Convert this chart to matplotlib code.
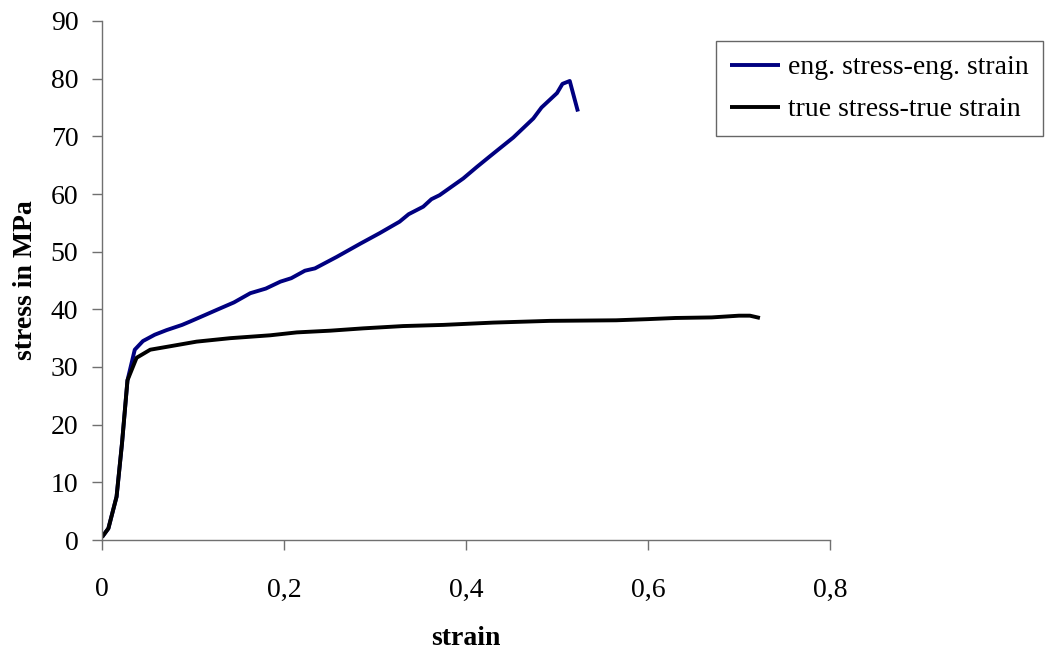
import matplotlib
matplotlib.use("Agg")
import matplotlib.pyplot as plt

eng_strain = [0, 0.007, 0.016, 0.022, 0.028, 0.036, 0.045, 0.058, 0.071, 0.088, 0.097, 0.113,
              0.126, 0.145, 0.163, 0.18, 0.196, 0.208, 0.223, 0.234, 0.258, 0.284, 0.305,
              0.327, 0.337, 0.353, 0.362, 0.371, 0.397, 0.412, 0.426, 0.437, 0.452, 0.474,
              0.483, 0.500, 0.506, 0.514, 0.523]
eng_stress = [0.5, 2.0, 7.5, 16.8, 27.7, 33.0, 34.5, 35.6, 36.4, 37.3, 37.9, 39.0,
              39.9, 41.2, 42.8, 43.6, 44.8, 45.4, 46.7, 47.1, 49.1, 51.4, 53.2,
              55.2, 56.5, 57.8, 59.1, 59.8, 62.7, 64.7, 66.5, 67.9, 69.8, 73.1,
              75.0, 77.5, 79.1, 79.6, 74.3]

true_strain = [0, 0.007, 0.016, 0.022, 0.028, 0.038, 0.053, 0.075, 0.104, 0.141, 0.185, 0.214,
               0.251, 0.287, 0.331, 0.375, 0.43, 0.492, 0.565, 0.60, 0.63, 0.67, 0.69,
               0.70, 0.712, 0.723]
true_stress = [0.5, 2.0, 7.5, 16.8, 27.7, 31.6, 33.0, 33.6, 34.4, 35.0, 35.5, 36.0,
               36.3, 36.7, 37.1, 37.3, 37.7, 38.0, 38.1, 38.3, 38.5, 38.6, 38.8,
               38.9, 38.9, 38.5]

x_ticks = [0, 0.2, 0.4, 0.6, 0.8]
x_tick_labels = ["0", "0,2", "0,4", "0,6", "0,8"]
y_ticks = [0, 10, 20, 30, 40, 50, 60, 70, 80, 90]

plt.rcParams['font.family'] = ['Liberation Serif', 'DejaVu Serif']

W, H = 1047, 653
fig = plt.figure(figsize=(W / 100, H / 100), dpi=100)
ax = fig.add_axes([102 / W, 1 - 540 / H, (830 - 102) / W, (540 - 21) / H])

ax.plot(eng_strain, eng_stress, color='#000080', lw=2.8, label='eng. stress-eng. strain',
        solid_joinstyle='round', solid_capstyle='butt')
ax.plot(true_strain, true_stress, color='#000000', lw=2.8, label='true stress-true strain',
        solid_joinstyle='round', solid_capstyle='butt')

ax.set_xlim(0, 0.8)
ax.set_ylim(0, 90)
ax.set_xticks(x_ticks)
ax.set_xticklabels(x_tick_labels)
ax.set_yticks(y_ticks)

axis_color = '#707070'
for s in ['top', 'right']:
    ax.spines[s].set_visible(False)
for s in ['left', 'bottom']:
    ax.spines[s].set_color(axis_color)
    ax.spines[s].set_linewidth(1.0)

ax.tick_params(axis='x', direction='out', length=7, width=1, color=axis_color,
               labelsize=20, pad=20)
ax.tick_params(axis='y', direction='out', length=7, width=1, color=axis_color,
               labelsize=20, pad=10)

ax.set_xlabel('strain', fontsize=20, fontweight='bold', labelpad=17)
ax.set_ylabel('stress in MPa', fontsize=20, fontweight='bold', labelpad=9)

leg = fig.legend(loc='upper left', bbox_to_anchor=(716 / W, 1 - 41 / H), fontsize=20,
                 frameon=True, fancybox=False, edgecolor='#404040', handlelength=1.8,
                 handletextpad=0.3, borderpad=0.5, labelspacing=0.6, borderaxespad=0)
leg.get_frame().set_linewidth(1.0)
for line in leg.get_lines():
    line.set_linewidth(2.8)

fig.savefig('out.png', dpi=100)
